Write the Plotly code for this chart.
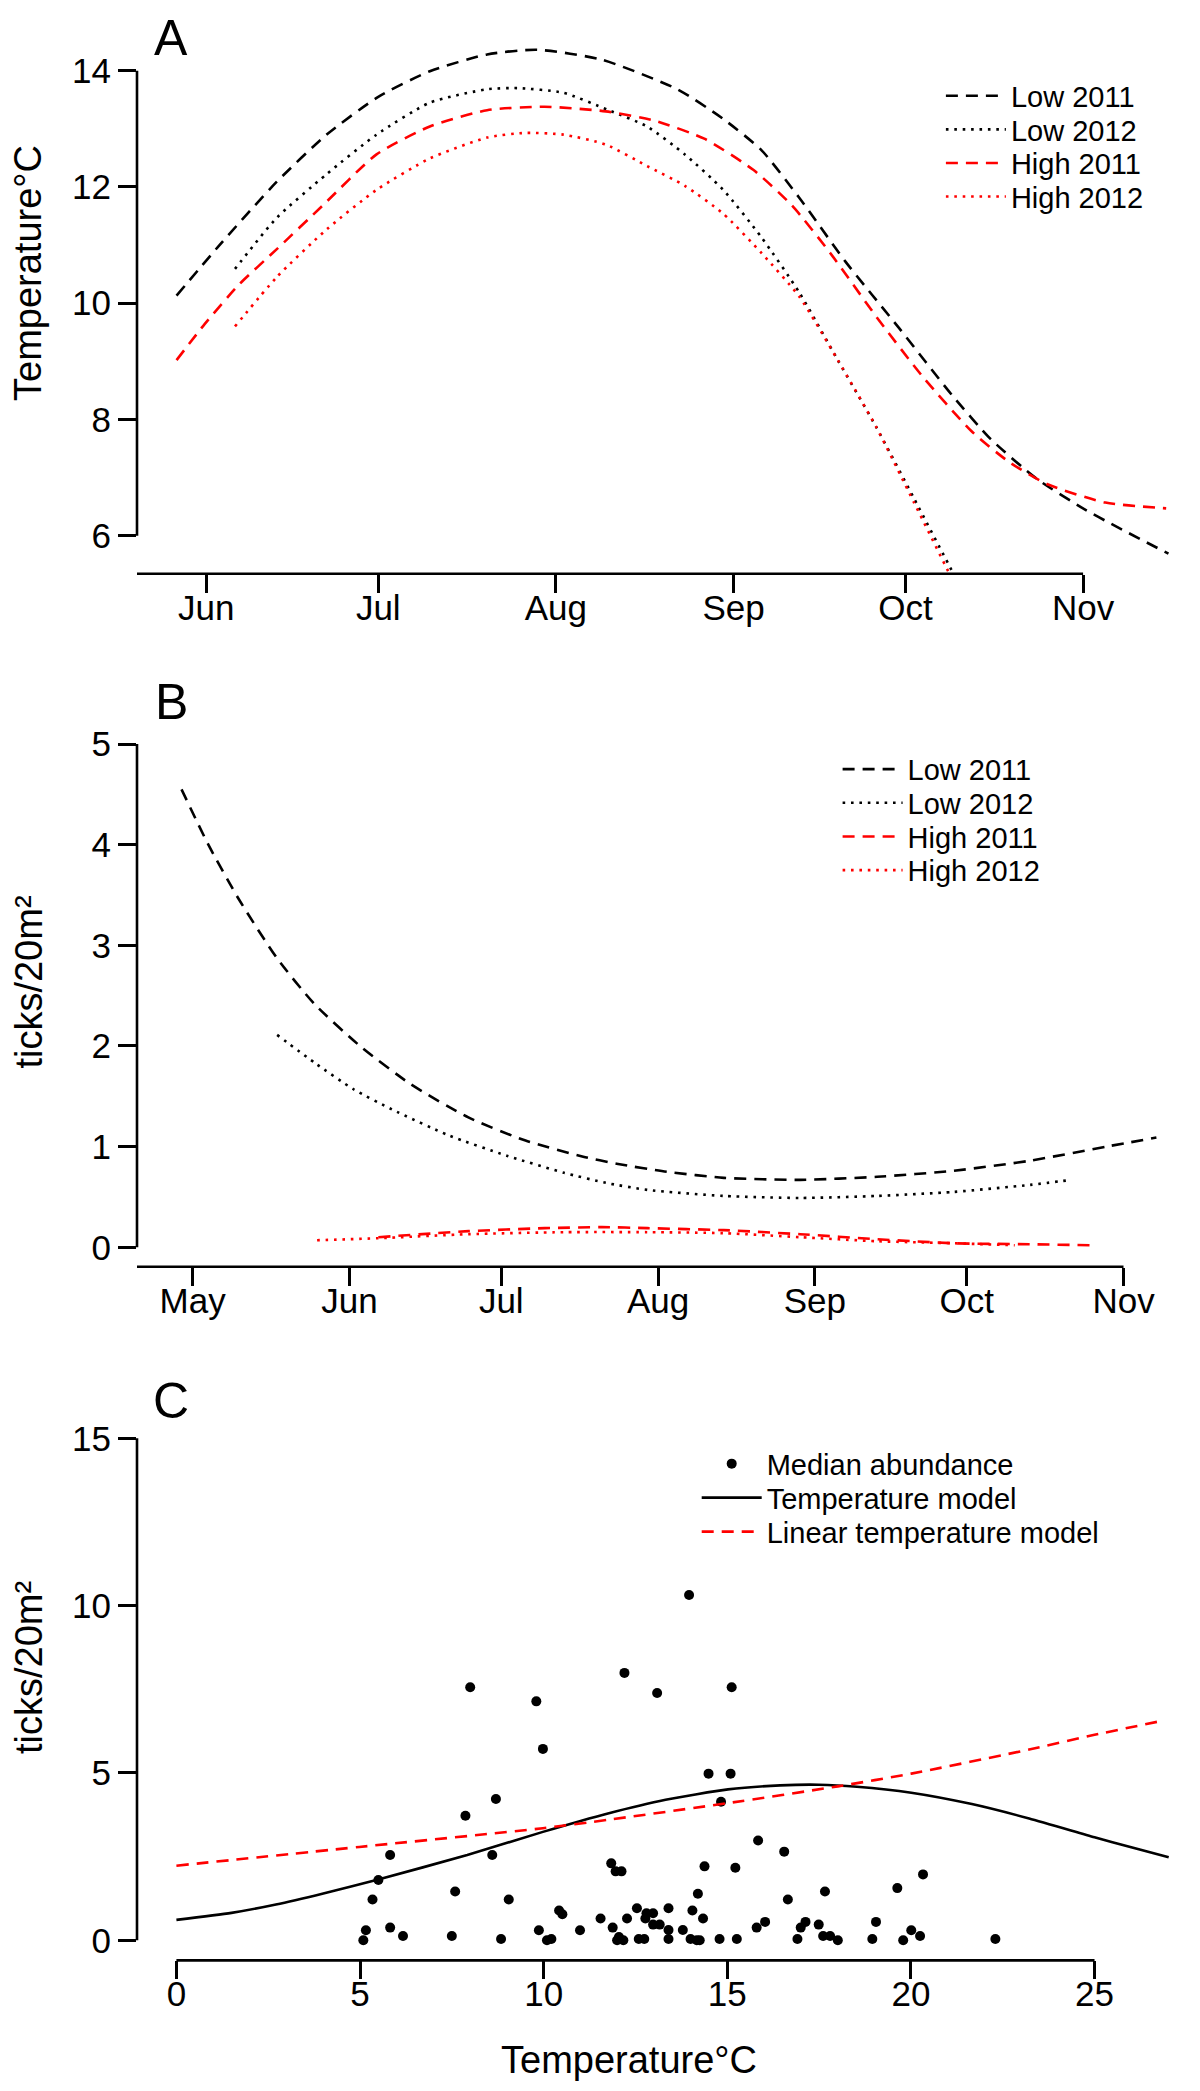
import plotly.graph_objects as go

# ---------------- Panel A: modelled temperature (deg C) by day of year ----------------
a_low2011_day = [146.8, 154.3, 164.3, 173.0, 182.0, 191.0, 201.0, 209.7, 221.0, 234.2, 242.2,
                 248.9, 255.5, 263.5, 272.9, 282.2, 288.9, 296.9, 305.5, 319.9]
a_low2011_val = [10.13, 11.00, 12.09, 12.90, 13.55, 13.99, 14.28, 14.36, 14.19, 13.68, 13.17,
                 12.63, 11.81, 10.72, 9.57, 8.41, 7.66, 6.98, 6.44, 5.69]
a_low2012_day = [157.0, 164.3, 173.0, 181.7, 191.0, 201.0, 206.3, 214.3, 222.2, 228.9, 235.5,
                 242.2, 248.9, 255.5, 262.2, 268.9, 275.5, 282.2, 282.9]
a_low2012_val = [10.59, 11.47, 12.22, 12.90, 13.45, 13.68, 13.70, 13.62, 13.32, 13.04, 12.56,
                 11.95, 11.13, 10.18, 9.02, 7.87, 6.64, 5.38, 5.25]
a_high2011_day = [146.8, 151.7, 157.7, 164.3, 172.3, 181.7, 191.0, 201.0, 211.0, 221.7, 230.2,
                  238.9, 247.5, 254.2, 260.9, 268.9, 276.9, 285.5, 292.2, 298.9, 308.9, 319.5]
a_high2011_val = [9.02, 9.64, 10.32, 10.93, 11.68, 12.56, 13.04, 13.32, 13.38, 13.30, 13.14,
                  12.83, 12.29, 11.68, 10.86, 9.77, 8.75, 7.80, 7.26, 6.88, 6.57, 6.47]
a_high2012_day = [157.0, 164.3, 173.0, 181.7, 191.0, 201.0, 207.7, 214.3, 221.7, 228.9, 235.5,
                  242.2, 248.9, 255.5, 262.2, 268.9, 275.5, 281.5, 282.2]
a_high2012_val = [9.60, 10.45, 11.27, 11.95, 12.49, 12.85, 12.93, 12.90, 12.73, 12.36, 12.02,
                  11.54, 10.86, 10.11, 9.02, 7.87, 6.57, 5.38, 5.25]

# ---------------- Panel B: modelled tick abundance (ticks/20m2) by day of year ----------------
b_low2011_day = [118.8, 124.1, 130.1, 137.7, 145.2, 154.3, 164.1, 175.5, 186.8, 198.2, 204.8,
                 214.7, 226.0, 241.1, 256.3, 271.4, 286.5, 301.6, 311.5]
b_low2011_val = [4.55, 4.00, 3.46, 2.87, 2.41, 1.99, 1.62, 1.29, 1.06, 0.90, 0.83,
                 0.75, 0.69, 0.67, 0.70, 0.76, 0.86, 1.00, 1.09]
b_low2012_day = [137.7, 145.2, 152.8, 160.4, 171.7, 183.1, 194.4, 202.7, 210.9, 226.0, 241.1,
                 256.3, 271.4, 286.5, 294.8]
b_low2012_val = [2.11, 1.83, 1.57, 1.37, 1.11, 0.91, 0.74, 0.64, 0.57, 0.51, 0.49,
                 0.51, 0.55, 0.62, 0.67]
b_high2011_day = [157.7, 175.5, 190.6, 201.9, 210.9, 226.0, 241.1, 256.3, 271.4, 286.5, 299.0]
b_high2011_val = [0.10, 0.16, 0.19, 0.20, 0.19, 0.17, 0.13, 0.08, 0.04, 0.03, 0.02]
b_high2012_day = [145.6, 157.7, 175.5, 194.4, 210.9, 226.0, 241.1, 256.3, 271.4, 283.5]
b_high2012_val = [0.07, 0.09, 0.13, 0.15, 0.15, 0.14, 0.10, 0.06, 0.04, 0.02]

# ---------------- Panel C: abundance vs temperature ----------------
c_temp = [5.09, 5.16, 5.34, 5.50, 5.82, 5.82, 6.17, 7.50, 7.59, 7.87, 8.00, 8.60, 8.70, 8.84,
          9.05, 9.80, 9.87, 9.98, 10.09, 10.21, 10.42, 10.51, 10.99, 11.55,
          11.84, 11.96, 12.12, 11.88, 12.05, 12.17, 12.00, 12.20, 12.27, 12.54, 12.59, 12.74,
          12.80, 12.77, 12.98, 12.98, 13.09, 13.16, 13.40, 13.40, 13.40, 13.79, 13.96, 14.05,
          14.00, 14.20, 14.17, 14.25, 14.34, 14.38, 14.49, 14.79, 14.83, 15.09, 15.12, 15.22,
          15.26, 15.80, 15.84, 16.03, 16.55, 16.65, 16.91, 17.00, 17.13, 17.49, 17.61, 17.66,
          17.80, 18.01, 18.95, 19.05, 19.63, 19.79, 20.01, 20.25, 20.33, 22.30]
c_ticks = [0.00, 0.30, 1.22, 1.80, 2.55, 0.38, 0.13, 0.13, 1.46, 3.72, 7.56, 2.55, 4.22, 0.04,
           1.22, 7.14, 0.30, 5.72, 0.00, 0.04, 0.89, 0.78, 0.30, 0.65,
           2.30, 2.06, 2.06, 0.38, 0.10, 0.00, 0.00, 7.99, 0.65, 0.96, 0.04, 0.04,
           0.81, 0.65, 0.81, 0.47, 7.39, 0.47, 0.96, 0.31, 0.04, 0.31, 10.32, 0.89,
           0.04, 1.39, 0.00, 0.00, 0.65, 2.21, 4.98, 0.04, 4.14, 4.98, 7.56, 2.17,
           0.04, 0.38, 2.98, 0.55, 2.65, 1.22, 0.04, 0.38, 0.55, 0.47, 0.13, 1.46,
           0.13, 0.00, 0.04, 0.55, 1.56, 0.00, 0.30, 0.13, 1.97, 0.04]
c_model_temp = [0.0, 1.5, 2.71, 4.0, 5.47, 7.92, 9.98, 11.75, 13.32, 15.02, 16.44, 17.49, 18.53,
                20.01, 21.66, 23.22, 25.0, 26.0, 27.02]
c_model_val = [0.61, 0.82, 1.07, 1.40, 1.81, 2.55, 3.24, 3.79, 4.20, 4.51, 4.63, 4.65, 4.59,
               4.41, 4.07, 3.64, 3.08, 2.78, 2.48]
c_linear_temp = [0.0, 4.98, 9.98, 11.75, 15.02, 18.01, 20.01, 23.22, 25.0, 26.76]
c_linear_val = [2.23, 2.79, 3.35, 3.60, 4.10, 4.60, 4.98, 5.70, 6.14, 6.54]

month_ticks_a = [152, 182, 213, 244, 274, 305]
month_labels_a = ["Jun", "Jul", "Aug", "Sep", "Oct", "Nov"]
month_ticks_b = [121, 152, 182, 213, 244, 274, 305]
month_labels_b = ["May", "Jun", "Jul", "Aug", "Sep", "Oct", "Nov"]

W, H = 1200, 2091
FONT = "Liberation Sans, Arial, Helvetica, sans-serif"
LW = 2.6
DASH = "12px,8px"
DOT = "2.6px,5.8px"
RED = "#ff0000"


def px(v):
    return v / W


def py(v):
    return 1 - v / H


fig = go.Figure()
legend_slots = []   # (legend id, text-left x px, row centre y px)


def new_legend(text_x, row_y):
    lid = "legend" if not legend_slots else "legend%d" % (len(legend_slots) + 1)
    legend_slots.append((lid, text_x, row_y))
    return lid


def add_line(x, y, name, color, dash, xa, ya, legend, width=LW):
    fig.add_trace(go.Scatter(x=x, y=y, mode="lines", name=name,
                             line=dict(color=color, dash=dash, width=width, shape="spline", smoothing=0.6),
                             xaxis=xa, yaxis=ya, legend=legend))


rows_a = [96.9, 130.5, 164.1, 197.7]
add_line(a_low2011_day, a_low2011_val, "Low 2011", "black", DASH, "x", "y", new_legend(1011.4, rows_a[0]))
add_line(a_low2012_day, a_low2012_val, "Low 2012", "black", DOT, "x", "y", new_legend(1011.4, rows_a[1]))
add_line(a_high2011_day, a_high2011_val, "High 2011", RED, DASH, "x", "y", new_legend(1011.4, rows_a[2]))
add_line(a_high2012_day, a_high2012_val, "High 2012", RED, DOT, "x", "y", new_legend(1011.4, rows_a[3]))

rows_b = [770.3, 803.9, 837.6, 871.3]
add_line(b_low2011_day, b_low2011_val, "Low 2011", "black", DASH, "x2", "y2", new_legend(908.1, rows_b[0]))
add_line(b_low2012_day, b_low2012_val, "Low 2012", "black", DOT, "x2", "y2", new_legend(908.1, rows_b[1]))
add_line(b_high2011_day, b_high2011_val, "High 2011", RED, DASH, "x2", "y2", new_legend(908.1, rows_b[2]))
add_line(b_high2012_day, b_high2012_val, "High 2012", RED, DOT, "x2", "y2", new_legend(908.1, rows_b[3]))

rows_c = [1464.8, 1498.8, 1532.8]
fig.add_trace(go.Scatter(x=c_temp, y=c_ticks, mode="markers", name="Median abundance",
                         marker=dict(color="black", size=10), xaxis="x3", yaxis="y3",
                         legend=new_legend(767.2, rows_c[0])))
add_line(c_model_temp, c_model_val, "Temperature model", "black", "solid", "x3", "y3",
         new_legend(767.2, rows_c[1]))
add_line(c_linear_temp, c_linear_val, "Linear temperature model", RED, DASH, "x3", "y3",
         new_legend(767.2, rows_c[2]))

x_dom = [px(129), 1.0]
doms = {
    "A": [py(565.7), py(22.0)],
    "B": [py(1258.7), py(715.9)],
    "C": [py(1952.4), py(1410.2)],
}

tickfont = dict(family=FONT, size=35, color="black")
axis_common = dict(showgrid=False, zeroline=False, showline=False, ticks="outside",
                   ticklen=18, tickwidth=LW, tickcolor="black", tickfont=tickfont)
xaxis_common = dict(ticklabelstandoff=-15, **axis_common)

fig.update_layout(
    width=W, height=H, margin=dict(l=0, r=0, t=0, b=0),
    paper_bgcolor="white", plot_bgcolor="white", showlegend=True,
    font=dict(family=FONT, color="black"),
    xaxis=dict(domain=x_dom, range=[139.9, 326.8], tickvals=month_ticks_a, ticktext=month_labels_a,
               anchor="y", **xaxis_common),
    yaxis=dict(domain=doms["A"], range=[5.346, 14.70], tickvals=[6, 8, 10, 12, 14],
               anchor="x", **axis_common),
    xaxis2=dict(domain=x_dom, range=[110.0, 321.7], tickvals=month_ticks_b, ticktext=month_labels_b,
                anchor="y2", **xaxis_common),
    yaxis2=dict(domain=doms["B"], range=[-0.193, 5.2], tickvals=[0, 1, 2, 3, 4, 5],
                anchor="x2", **axis_common),
    xaxis3=dict(domain=x_dom, range=[-1.073, 28.09], tickvals=[0, 5, 10, 15, 20, 25],
                anchor="y3", **xaxis_common),
    yaxis3=dict(domain=doms["C"], range=[-0.6, 15.6], tickvals=[0, 5, 10, 15],
                anchor="x3", **axis_common),
)

TEXT_OFFSET = 78.5
ROW_SHIFT = 9.0
legend_layout = {}
for lid, text_x, row_y in legend_slots:
    legend_layout[lid] = dict(font=dict(family=FONT, size=29, color="black"), visible=True,
                              bgcolor="rgba(0,0,0,0)", xanchor="left", yanchor="middle",
                              itemwidth=60, x=px(text_x - TEXT_OFFSET), y=py(row_y - ROW_SHIFT))
fig.update_layout(**legend_layout)

# R-style detached axis lines
shapes = []
axis_line = dict(color="black", width=LW)
for xa, ya, ylo, yhi, xlo, xhi in [("x", "y", 6, 14, 139.65, 305),
                                   ("x2", "y2", 0, 5, 109.7, 305),
                                   ("x3", "y3", 0, 15, 0, 25)]:
    shapes.append(dict(type="line", xref=xa + " domain", yref=ya, x0=0, x1=0, y0=ylo, y1=yhi,
                       line=axis_line, layer="above"))
    shapes.append(dict(type="line", xref=xa, yref=ya + " domain", x0=xlo, x1=xhi, y0=0, y1=0,
                       line=axis_line, layer="above"))
fig.update_layout(shapes=shapes)

annotations = []
for label, yc in [("A", 30.0), ("B", 694.0), ("C", 1393.0)]:
    annotations.append(dict(text=label, x=px(163), y=py(yc), xref="paper", yref="paper",
                            xanchor="center", yanchor="middle", showarrow=False,
                            font=dict(family=FONT, size=50, color="black")))
for text, xc, yc in [("Temperature°C", 20, 265), ("ticks/20m²", 21, 974.6), ("ticks/20m²", 21, 1660)]:
    annotations.append(dict(text=text, x=px(xc), y=py(yc), xref="paper", yref="paper",
                            xanchor="center", yanchor="middle", textangle=-90, showarrow=False,
                            font=dict(family=FONT, size=38, color="black")))
annotations.append(dict(text="Temperature°C", x=px(621), y=py(2052), xref="paper", yref="paper",
                        xanchor="center", yanchor="middle", showarrow=False,
                        font=dict(family=FONT, size=38, color="black")))
fig.update_layout(annotations=annotations)

fig.write_html("out.html")
